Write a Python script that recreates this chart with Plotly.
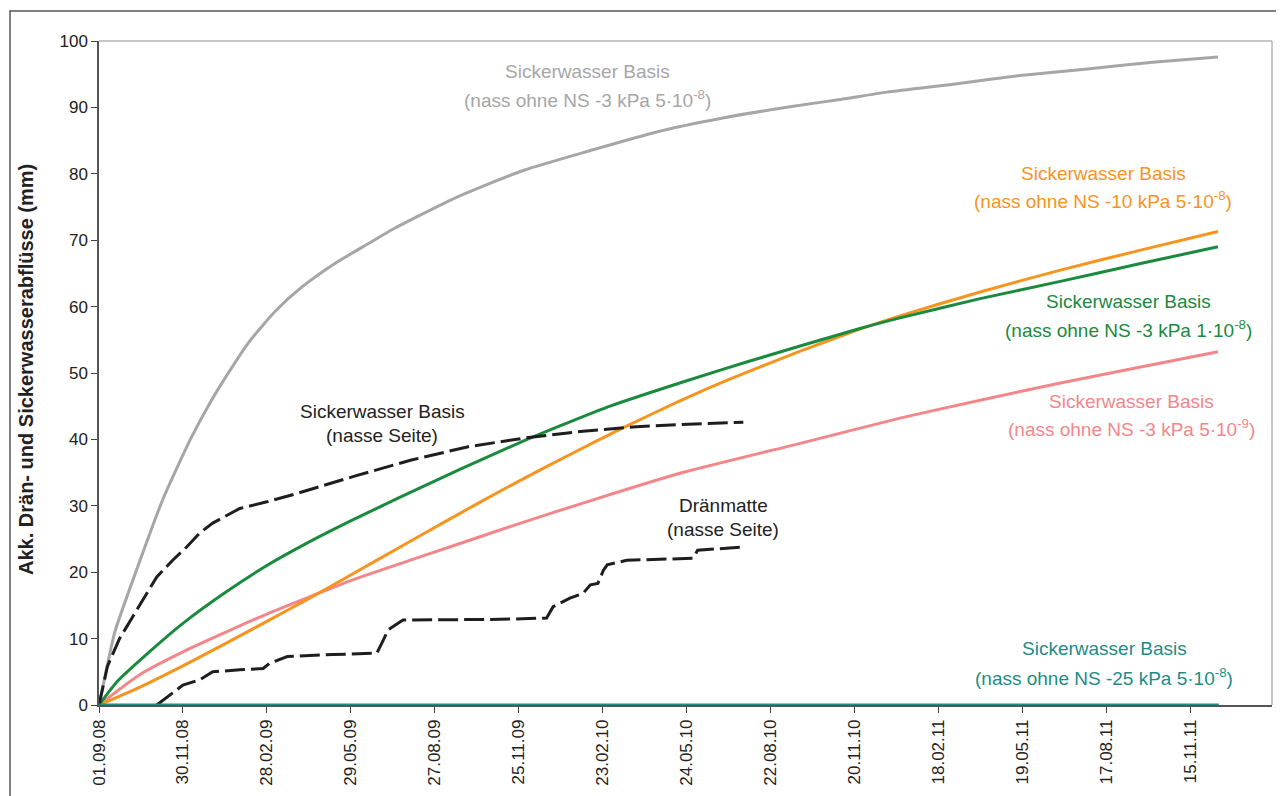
import pandas as pd
import plotly.graph_objects as go

START = pd.Timestamp("2008-09-01")

# tick labels (every 90 days from 01.09.08)
tick_labels = ["01.09.08", "30.11.08", "28.02.09", "29.05.09", "27.08.09", "25.11.09",
               "23.02.10", "24.05.10", "22.08.10", "20.11.10", "18.02.11", "19.05.11",
               "17.08.11", "15.11.11"]

# series: days since 01.09.08 and accumulated values (mm)
gray_days = [0, 6, 17, 42, 68, 98, 119, 141, 160, 189, 218, 253, 289, 317, 384, 455, 527,
             598, 669, 741, 795, 845, 916, 988, 1060, 1130, 1200]
gray_vals = [0, 4, 11, 21, 30.8, 40, 45.5, 50.5, 54.5, 59.3, 63, 66.5, 69.5, 71.8, 76.5, 80.5,
             83.5, 86.3, 88.4, 90.1, 91.2, 92.3, 93.5, 94.8, 95.8, 96.8, 97.6]

orange_days = [0, 44, 90, 135, 180, 226, 269, 323, 376, 430, 484, 537, 564, 623, 677, 752,
               816, 859, 945, 1031, 1117, 1200]
orange_vals = [0, 2.7, 5.9, 9.2, 12.6, 16.1, 19.5, 23.8, 28.0, 32.2, 36.2, 40.0, 41.9, 45.8,
               49.1, 53.3, 56.6, 58.6, 62.2, 65.5, 68.5, 71.3]

green_days = [0, 20, 54, 90, 135, 180, 226, 271, 323, 387, 456, 501, 548, 632, 698, 816, 859,
              945, 1031, 1117, 1200]
green_vals = [0, 3.6, 8.0, 12.3, 16.9, 21.0, 24.6, 27.8, 31.3, 35.5, 39.8, 42.4, 45.0, 48.9,
              51.8, 56.7, 58.3, 61.2, 63.8, 66.5, 69.0]

pink_days = [0, 44, 90, 135, 180, 226, 269, 323, 376, 448, 530, 623, 752, 859, 945, 1031,
             1117, 1200]
pink_vals = [0, 4.6, 8.0, 10.9, 13.7, 16.3, 18.7, 21.3, 23.8, 27.2, 30.9, 34.9, 39.4, 43.2,
             45.9, 48.5, 50.9, 53.2]

teal_days = [0, 300, 600, 900, 1201]
teal_vals = [0, 0, 0, 0, 0]

wet_days = [0, 9, 22, 37, 62, 79, 94, 108, 122, 151, 180, 211, 275, 335, 396, 456, 516, 576,
            632, 691]
wet_vals = [0, 5.8, 10, 13.5, 19.3, 21.8, 23.8, 25.9, 27.4, 29.6, 30.6, 31.8, 34.5, 36.9,
            38.9, 40.2, 41.2, 41.9, 42.3, 42.6]

drain_days = [62, 76, 90, 108, 122, 151, 176, 183, 202, 251, 298, 305, 310, 326, 376, 430,
              480, 487, 505, 519, 527, 535, 541, 545, 566, 637, 642, 691]
drain_vals = [0, 1.5, 3.0, 3.8, 5.0, 5.3, 5.5, 6.3, 7.3, 7.6, 7.8, 9.8, 11.3, 12.8, 12.8,
              12.9, 13.1, 14.8, 16.1, 16.8, 18.1, 18.3, 20.3, 21.1, 21.8, 22.1, 23.3, 23.8]


def to_dates(days):
    return [START + pd.Timedelta(days=d) for d in days]


C_GRAY = "#a6a6a8"
C_ORANGE = "#f7941d"
C_GREEN = "#1a8a3e"
C_PINK = "#f4868a"
C_TEAL = "#1e8c86"
C_BLACK = "#1e1e1e"

fig = go.Figure()

def add_line(days, vals, color, dash="solid", width=3, shape="spline"):
    fig.add_trace(go.Scatter(x=to_dates(days), y=vals, mode="lines",
                             line=dict(color=color, width=width, dash=dash, shape=shape,
                                       smoothing=0.6 if shape == "spline" else None),
                             showlegend=False, hoverinfo="skip", cliponaxis=False))

add_line(gray_days, gray_vals, C_GRAY)
add_line(pink_days, pink_vals, C_PINK)
add_line(orange_days, orange_vals, C_ORANGE)
add_line(green_days, green_vals, C_GREEN)
add_line(wet_days, wet_vals, C_BLACK, dash="20px,6px", shape="linear")
add_line(drain_days, drain_vals, C_BLACK, dash="20px,6px", shape="linear")
add_line(teal_days, teal_vals, C_TEAL, shape="linear")

# the page body adds an 8px offset; geometry below is in screen pixels
OFF = 8
L, R, T, B = 99, 1272, 41, 705
W, H = 1284, 796

def px(x):
    return (x - L) / (R - L)

def py(y):
    return (B - y) / (B - T)

FONT = "Liberation Sans, Arial, sans-serif"
ann_size = 19

labels = [
    (587, 71, "Sickerwasser Basis", C_GRAY),
    (587, 99, "(nass ohne NS -3 kPa 5·10<sup>-8</sup>)", C_GRAY),
    (1103, 173, "Sickerwasser Basis", C_ORANGE),
    (1103, 200, "(nass ohne NS -10 kPa 5·10<sup>-8</sup>)", C_ORANGE),
    (1128, 301, "Sickerwasser Basis", C_GREEN),
    (1128, 329, "(nass ohne NS -3 kPa 1·10<sup>-8</sup>)", C_GREEN),
    (1131, 401, "Sickerwasser Basis", C_PINK),
    (1131, 428, "(nass ohne NS -3 kPa 5·10<sup>-9</sup>)", C_PINK),
    (1104, 648, "Sickerwasser Basis", C_TEAL),
    (1104, 677, "(nass ohne NS -25 kPa 5·10<sup>-8</sup>)", C_TEAL),
    (382, 411, "Sickerwasser Basis", "#222222"),
    (382, 435, "(nasse Seite)", "#222222"),
    (723, 505, "Dränmatte", "#222222"),
    (723, 529, "(nasse Seite)", "#222222"),
]
for x, y, t, c in labels:
    fig.add_annotation(x=px(x), y=py(y), xref="paper", yref="paper", text=t,
                       showarrow=False, xanchor="center", yanchor="middle",
                       font=dict(family=FONT, size=ann_size, color=c))

# y-axis title
fig.add_annotation(x=px(26), y=py(370), xref="paper", yref="paper",
                   text="<b>Akk. Drän- und Sickerwasserabflüsse (mm)</b>", textangle=-90,
                   showarrow=False, xanchor="center", yanchor="middle",
                   font=dict(family=FONT, size=20, color="#222222"))

# plot-area border (top & right) and outer frame
fig.add_shape(type="line", xref="paper", yref="paper", x0=0, x1=1, y0=1, y1=1,
              line=dict(color="#b4b4b4", width=1.5), layer="below")
fig.add_shape(type="line", xref="paper", yref="paper", x0=1, x1=1, y0=0, y1=1,
              line=dict(color="#b4b4b4", width=1.5), layer="below")
fig.add_shape(type="rect", xref="paper", yref="paper", x0=px(10), x1=px(1300),
              y0=py(820), y1=py(11), line=dict(color="#555555", width=1.5),
              fillcolor="rgba(0,0,0,0)")

tick_dates = [START + pd.Timedelta(days=90 * i) for i in range(len(tick_labels))]
x_end = START + pd.Timedelta(days=(R - L) / ((1190 - 99) / 1170.0))

fig.update_layout(
    width=W - OFF, height=H - OFF,
    margin=dict(l=L - OFF, r=W - R, t=T - OFF, b=H - B, autoexpand=False),
    paper_bgcolor="white", plot_bgcolor="white",
    font=dict(family=FONT, color="#222222"),
    xaxis=dict(type="date", range=[START, x_end], tickvals=tick_dates, ticktext=tick_labels,
               tickangle=-90, ticks="outside", ticklen=6, tickcolor="#444444",
               showline=True, linecolor="#555555", linewidth=1.5, showgrid=False,
               zeroline=False, automargin=False,
               tickfont=dict(family=FONT, size=17, color="#222222")),
    yaxis=dict(range=[0, 100], dtick=10, tick0=0, ticks="outside", ticklen=6,
               tickcolor="#444444", showline=True, linecolor="#555555", linewidth=1.5,
               showgrid=False, zeroline=False, automargin=False,
               tickfont=dict(family=FONT, size=17, color="#222222")),
)

fig.write_html("out.html")
